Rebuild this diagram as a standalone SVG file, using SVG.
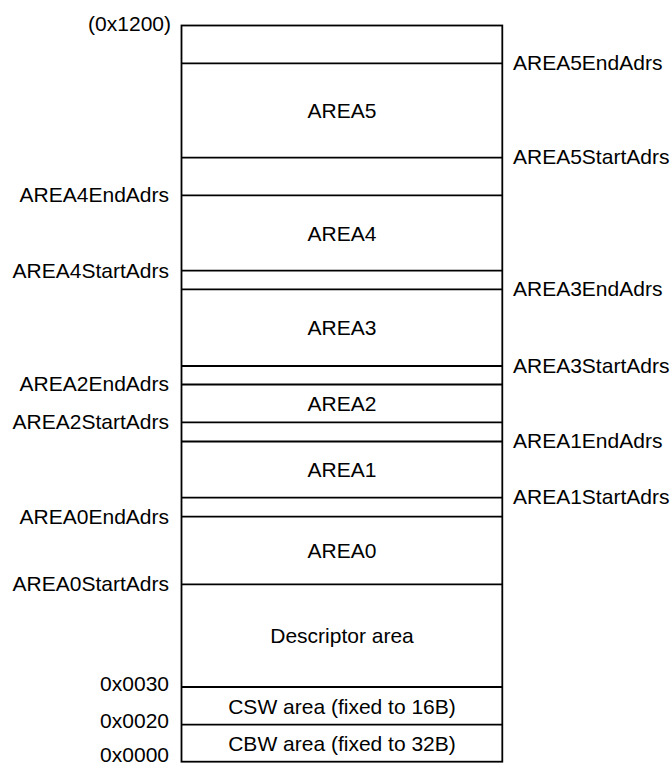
<svg xmlns="http://www.w3.org/2000/svg" width="672" height="767" viewBox="0 0 672 767">
<style>
text{font-family:"Liberation Sans",Arial,sans-serif;font-size:21px;fill:#000}
.l{text-anchor:end}
.r{text-anchor:start}
.c{text-anchor:middle}
.ln{stroke:#000;stroke-width:1.8;fill:none}
</style>
<rect width="672" height="767" fill="#fff"/>
<g id="memory-box">
<rect class="ln" x="181.5" y="25.5" width="320.8" height="736.2"/>
</g>
<g id="boundaries">
<line class="ln" x1="181.5" y1="63.3" x2="502.3" y2="63.3"/>
<line class="ln" x1="181.5" y1="157.7" x2="502.3" y2="157.7"/>
<line class="ln" x1="181.5" y1="195.3" x2="502.3" y2="195.3"/>
<line class="ln" x1="181.5" y1="270.7" x2="502.3" y2="270.7"/>
<line class="ln" x1="181.5" y1="289.3" x2="502.3" y2="289.3"/>
<line class="ln" x1="181.5" y1="366" x2="502.3" y2="366"/>
<line class="ln" x1="181.5" y1="384.5" x2="502.3" y2="384.5"/>
<line class="ln" x1="181.5" y1="422.3" x2="502.3" y2="422.3"/>
<line class="ln" x1="181.5" y1="441.5" x2="502.3" y2="441.5"/>
<line class="ln" x1="181.5" y1="497.7" x2="502.3" y2="497.7"/>
<line class="ln" x1="181.5" y1="516.7" x2="502.3" y2="516.7"/>
<line class="ln" x1="181.5" y1="584.3" x2="502.3" y2="584.3"/>
<line class="ln" x1="181.5" y1="687" x2="502.3" y2="687"/>
<line class="ln" x1="181.5" y1="724.7" x2="502.3" y2="724.7"/>
</g>
<g id="area-labels">
<text class="c" x="342" y="118">AREA5</text>
<text class="c" x="342" y="240.5">AREA4</text>
<text class="c" x="342" y="335">AREA3</text>
<text class="c" x="342" y="411">AREA2</text>
<text class="c" x="342" y="477">AREA1</text>
<text class="c" x="342" y="558">AREA0</text>
<text class="c" x="342" y="643">Descriptor area</text>
<text class="c" x="342" y="713.5">CSW area (fixed to 16B)</text>
<text class="c" x="342" y="750.5">CBW area (fixed to 32B)</text>
</g>
<g id="left-labels">
<text class="l" x="171" y="31">(0x1200)</text>
<text class="l" x="169" y="202">AREA4EndAdrs</text>
<text class="l" x="169" y="277.5">AREA4StartAdrs</text>
<text class="l" x="169" y="391">AREA2EndAdrs</text>
<text class="l" x="169" y="429">AREA2StartAdrs</text>
<text class="l" x="169" y="523.5">AREA0EndAdrs</text>
<text class="l" x="169" y="591">AREA0StartAdrs</text>
<text class="l" x="169" y="690.5">0x0030</text>
<text class="l" x="169" y="728">0x0020</text>
<text class="l" x="169" y="762">0x0000</text>
</g>
<g id="right-labels">
<text class="r" x="513" y="69.5">AREA5EndAdrs</text>
<text class="r" x="513" y="164">AREA5StartAdrs</text>
<text class="r" x="513" y="296">AREA3EndAdrs</text>
<text class="r" x="513" y="372.5">AREA3StartAdrs</text>
<text class="r" x="513" y="448">AREA1EndAdrs</text>
<text class="r" x="513" y="504">AREA1StartAdrs</text>
</g>
</svg>
